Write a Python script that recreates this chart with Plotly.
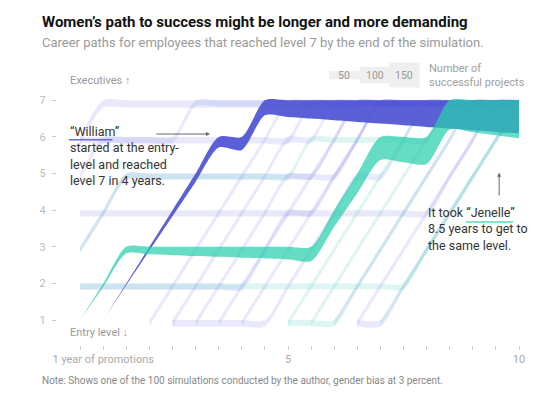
import plotly.graph_objects as go

# half-year promotion cycles
YEARS = [0.5, 1.0, 1.5, 2.0, 2.5, 3.0, 3.5, 4.0, 4.5, 5.0,
         5.5, 6.0, 6.5, 7.0, 7.5, 8.0, 8.5, 9.0, 9.5, 10.0]

# "William" (man) - starts at entry level in year 1
william_start = 1.0
william_levels = [1, 2, 3, 4, 5, 6, 6, 7, 7, 7, 7, 7, 7, 7, 7, 7, 7, 7, 7]
william_projects = [0, 10, 22, 36, 50, 64, 78, 90, 100, 110, 120, 130, 140,
                    150, 160, 170, 180, 190, 200]

# "Jenelle" (woman)
jenelle_start = 0.5
jenelle_levels = [1, 2, 3, 3, 3, 3, 3, 3, 3, 3, 3, 4, 5, 6, 6, 6, 7, 7, 7, 7]
jenelle_projects = [0, 22, 40, 45, 50, 55, 60, 65, 70, 75, 85, 100, 118, 138,
                    152, 162, 175, 192, 210, 228]

# the other employees that reached level 7 (m = men, w = women)
bg_group = ['m', 'm', 'm', 'm', 'm', 'm', 'm', 'm', 'm', 'm', 'm', 'm', 'm',
            'm', 'm', 'w', 'w', 'w', 'w', 'w', 'w']
bg_start = [0.5, 0.5, 0.5, 0.5, 0.5, 0.5, 2.0, 2.5, 2.5, 3.0, 3.5, 4.0, 6.0,
            6.5, 6.5, 5.0, 5.0, 5.5, 0.5, 0.5, 7.0]
bg_levels = [
    [6, 7, 7, 7, 7, 7, 7, 7, 7, 7, 7, 7, 7, 7, 7, 7, 7, 7, 7, 7],
    [5, 6, 6, 6, 6, 6, 6, 6, 6, 6, 7, 7, 7, 7, 7, 7, 7, 7, 7, 7],
    [4, 4, 4, 4, 4, 4, 4, 4, 4, 4, 4, 4, 4, 4, 4, 4, 5, 6, 7, 7],
    [2, 2, 2, 2, 2, 2, 2, 2, 3, 4, 5, 6, 7, 7, 7, 7, 7, 7, 7, 7],
    [3, 4, 5, 5, 5, 5, 5, 5, 5, 5, 5, 5, 6, 7, 7, 7, 7, 7, 7, 7],
    [6, 6, 6, 6, 6, 7, 7, 7, 7, 7, 7, 7, 7, 7, 7, 7, 7, 7, 7, 7],
    [1, 2, 3, 4, 5, 6, 7, 7, 7, 7, 7, 7, 7, 7, 7, 7, 7],
    [1, 1, 1, 1, 1, 2, 3, 4, 5, 5, 6, 7, 7, 7, 7, 7],
    [1, 2, 3, 4, 5, 6, 6, 7, 7, 7, 7, 7, 7, 7, 7, 7],
    [1, 2, 3, 4, 5, 5, 6, 7, 7, 7, 7, 7, 7, 7, 7],
    [1, 2, 3, 4, 4, 5, 6, 7, 7, 7, 7, 7, 7, 7],
    [1, 2, 3, 4, 5, 6, 7, 7, 7, 7, 7, 7, 7],
    [1, 2, 3, 4, 5, 6, 7, 7, 7],
    [1, 1, 2, 3, 4, 5, 6, 7],
    [1, 2, 3, 4, 5, 6, 7, 7],
    [1, 2, 3, 4, 5, 6, 7, 7, 7, 7, 7],
    [1, 1, 1, 2, 3, 4, 5, 6, 7, 7, 7],
    [1, 2, 3, 4, 5, 6, 7, 7, 7, 7],
    [2, 2, 2, 2, 2, 2, 2, 2, 2, 2, 2, 2, 2, 2, 2, 3, 4, 5, 6, 7],
    [3, 4, 5, 5, 5, 5, 5, 5, 5, 5, 6, 6, 6, 6, 6, 6, 7, 7, 7, 7],
    [1, 2, 3, 4, 5, 6, 7],
]
bg_projects = [45, 40, 38, 38, 35, 38, 35, 38, 35, 35, 35, 35, 35, 38, 35,
               35, 35, 35, 35, 35, 35]

legend_values = [50, 100, 150]

PROJECTS_PER_LEVEL = 220.0  # band thickness scale
SMOOTH = 0.75

MEN_BG = 'rgba(140,140,232,0.19)'
WOMEN_BG = 'rgba(80,205,190,0.19)'
MEN_HI = 'rgba(78,82,212,0.92)'
WOMEN_HI = 'rgba(42,206,173,0.72)'

fig = go.Figure()


def add_band(start, levels, projects, color):
    i0 = YEARS.index(start)
    xs = YEARS[i0:i0 + len(levels)]
    if not isinstance(projects, list):
        projects = [projects] * len(levels)
    bottom = [lv - p / PROJECTS_PER_LEVEL for lv, p in zip(levels, projects)]
    line = dict(width=0, shape='spline', smoothing=SMOOTH)
    fig.add_trace(go.Scatter(x=xs, y=bottom, mode='lines', line=line,
                             hoverinfo='skip', showlegend=False))
    fig.add_trace(go.Scatter(x=xs, y=levels, mode='lines', line=line,
                             fill='tonexty', fillcolor=color,
                             hoverinfo='skip', showlegend=False))


for g, s, lv, p in zip(bg_group, bg_start, bg_levels, bg_projects):
    add_band(s, lv, p, MEN_BG if g == 'm' else WOMEN_BG)

add_band(william_start, william_levels, william_projects, MEN_HI)
add_band(jenelle_start, jenelle_levels, jenelle_projects, WOMEN_HI)

FONT = 'Roboto'
GREY = '#999999'

# size legend
legend_x = [6.22, 6.88, 7.52]
legend_y = 7.69
for val, xc in zip(legend_values, legend_x):
    h = val / PROJECTS_PER_LEVEL
    fig.add_shape(type='rect', xref='x', yref='y', x0=xc - 0.33, x1=xc + 0.33,
                  y0=legend_y - h / 2, y1=legend_y + h / 2,
                  fillcolor='#efefef', line_width=0, layer='below')
    fig.add_annotation(x=xc, y=legend_y, text=str(val), showarrow=False,
                       font=dict(family=FONT, size=10.5, color=GREY))
fig.add_annotation(x=8.0, y=legend_y, xanchor='left', showarrow=False, align='left',
                   text='Number of<br>successful projects',
                   font=dict(family=FONT, size=11, color='#a0a0a0'))

# axis captions
fig.add_annotation(x=0.24, y=7.53, xanchor='left', showarrow=False,
                   text='Executives \u2191', font=dict(family=FONT, size=11, color=GREY))
fig.add_annotation(x=0.24, y=0.65, xanchor='left', showarrow=False,
                   text='Entry level \u2193', font=dict(family=FONT, size=11, color=GREY))

# William note
fig.add_annotation(x=0.24, y=5.47, xanchor='left', showarrow=False, align='left',
                   text='\u201cWilliam\u201d<br>started at the entry-<br>level and reached<br>level 7 in 4 years.',
                   font=dict(family=FONT, size=12.5, color='#333333'))
fig.add_shape(type='line', xref='x', yref='y', x0=0.26, x1=1.2, y0=5.92, y1=5.92,
              line=dict(color='#6a6ad8', width=1.5))
fig.add_annotation(x=3.31, y=6.08, ax=2.12, ay=6.08, axref='x', ayref='y', text='',
                   showarrow=True, arrowhead=2, arrowsize=0.8, arrowwidth=1,
                   arrowcolor='#666666')

# Jenelle note
fig.add_annotation(x=7.99, y=3.49, xanchor='left', showarrow=False, align='left',
                   text='It took \u201cJenelle\u201d<br>8.5 years to get to<br>the same level.',
                   font=dict(family=FONT, size=12.5, color='#333333'))
fig.add_shape(type='line', xref='x', yref='y', x0=8.85, x1=9.87, y0=3.68, y1=3.68,
              line=dict(color='#5fd8c0', width=1.5))
fig.add_annotation(x=9.57, y=5.02, ax=9.57, ay=4.36, axref='x', ayref='y', text='',
                   showarrow=True, arrowhead=2, arrowsize=0.8, arrowwidth=1,
                   arrowcolor='#666666')

# title, subtitle, note
fig.add_annotation(xref='paper', yref='paper', x=-0.037, y=1.133, xanchor='left',
                   yanchor='middle', showarrow=False,
                   text='<b>Women\u2019s path to success might be longer and more demanding</b>',
                   font=dict(family=FONT, size=15, color='#121212'))
fig.add_annotation(xref='paper', yref='paper', x=-0.037, y=1.06, xanchor='left',
                   yanchor='middle', showarrow=False,
                   text='Career paths for employees that reached level 7 by the end of the simulation.',
                   font=dict(family=FONT, size=13, color='#9a9a9a'))
fig.add_annotation(xref='paper', yref='paper', x=-0.037, y=-0.126, xanchor='left',
                   yanchor='middle', showarrow=False,
                   text='Note: Shows one of the 100 simulations conducted by the author, gender bias at 3 percent.',
                   font=dict(family=FONT, size=10, color='#888888'))

xt = YEARS
xlabels = ['1 year of promotions' if v == 1 else ('5' if v == 5 else ('10' if v == 10 else ''))
           for v in xt]

fig.update_layout(
    template='none',
    width=549, height=400,
    margin=dict(l=49, r=38, t=52, b=63),
    plot_bgcolor='white', paper_bgcolor='white',
    showlegend=False,
    xaxis=dict(range=[0, 10], showgrid=False, zeroline=False, showline=False,
               automargin=False,
               tickvals=xt, ticktext=xlabels, ticks='outside', ticklen=4,
               tickcolor='#cccccc', tickfont=dict(family=FONT, size=11, color='#aaaaaa'),
               fixedrange=True),
    yaxis=dict(range=[0.32, 8.1], showgrid=False, zeroline=False, showline=False,
               automargin=False, ticklabelstandoff=4,
               tickvals=[1, 2, 3, 4, 5, 6, 7], ticks='outside', ticklen=4,
               tickcolor='#cccccc', tickfont=dict(family=FONT, size=11, color='#bbbbbb'),
               fixedrange=True),
)

fig.write_html("out.html")
